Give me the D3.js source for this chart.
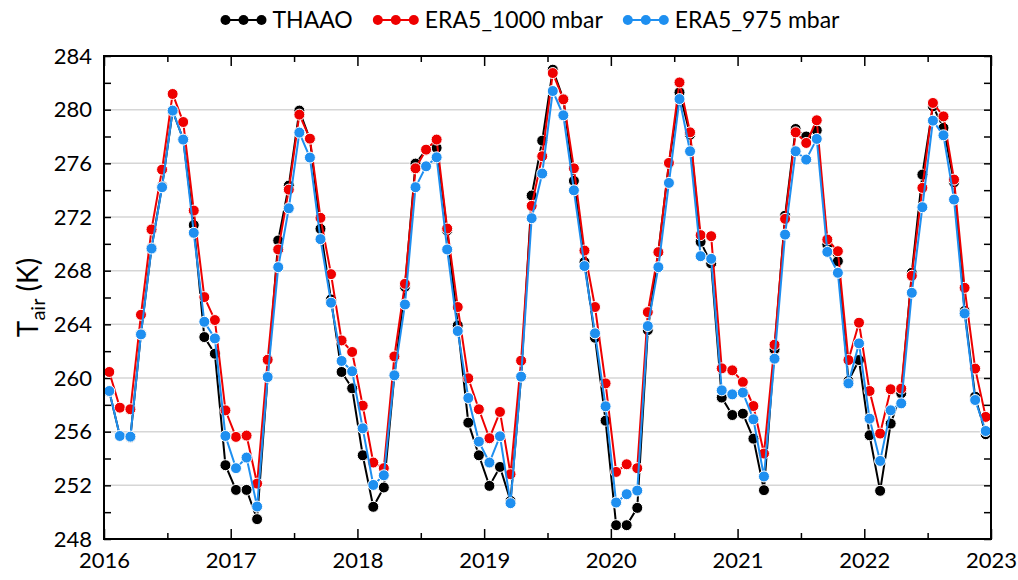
<!DOCTYPE html>
<html>
<head>
<meta charset="utf-8">
<script src="https://cdn.jsdelivr.net/npm/d3@7"></script>
<style>
  body { margin: 0; background: #fff; }
  .vis { width: 1018px; height: 580px; }
  text { font-family: Lato, "Open Sans", sans-serif; fill: #000; }
</style>
</head>
<body>
<div class="vis"></div>
<script>
(function() {
  'use strict';

  // monthly means, Jan 2016 .. Dec 2022
  var startYear = 2016;
  var yearTicks = [2016, 2017, 2018, 2019, 2020, 2021, 2022, 2023];
  var tempTicks = [248, 252, 256, 260, 264, 268, 272, 276, 280, 284];
  var seriesNames = ['THAAO', 'ERA5_1000 mbar', 'ERA5_975 mbar'];

  var thaao = [
    259.0, 255.7, 255.6, 263.3, 269.7, 274.3, 279.9, 277.8, 271.4, 263.05, 261.81, 253.5,
    251.66, 251.66, 249.48, 260.1, 270.25, 274.34, 279.93, 277.8, 271.12, 265.86, 260.45, 259.23,
    254.24, 250.4, 251.84, 260.2, 266.8, 275.98, 277.0, 277.15, 271.0, 263.92, 256.67, 254.24,
    251.96, 253.37, 250.84, 260.1, 273.6, 277.69, 282.98, 280.8, 274.69, 268.64, 263.0, 256.82,
    249.03, 249.03, 250.32, 263.57, 269.4, 276.0, 281.29, 278.14, 270.15, 268.54, 258.54, 257.24,
    257.34, 255.48, 251.64, 262.13, 272.1, 278.56, 278.0, 278.46, 269.95, 268.71, 259.78, 261.34,
    255.73, 251.59, 256.6, 258.86, 267.84, 275.16, 280.25, 278.64, 274.59, 264.99, 258.61, 255.81
  ];
  var era1000 = [
    260.45, 257.79, 257.67, 264.71, 271.07, 275.53, 281.17, 279.08, 272.48, 266.03, 264.32, 257.59,
    255.61, 255.71, 252.13, 261.36, 269.58, 274.04, 279.63, 277.84, 271.94, 267.74, 262.8, 261.94,
    257.94, 253.7, 253.28, 261.61, 267.02, 275.63, 277.02, 277.77, 271.14, 265.29, 259.98, 257.67,
    255.51, 257.47, 252.83, 261.29, 272.83, 276.53, 282.73, 280.77, 275.63, 269.5, 265.29, 259.6,
    253.0, 253.57, 253.28, 264.91, 269.38, 276.03, 282.03, 278.31, 270.65, 270.57, 260.72, 260.57,
    259.7, 257.91, 254.37, 262.48, 271.86, 278.31, 277.52, 279.21, 270.32, 269.45, 261.34, 264.12,
    259.03, 255.86, 259.16, 259.21, 267.62, 274.17, 280.5, 279.5, 274.79, 266.72, 260.7, 257.1
  ];
  var era975 = [
    259.03, 255.68, 255.63, 263.25, 269.65, 274.22, 279.93, 277.77, 270.82, 264.19, 262.95, 255.68,
    253.28, 254.07, 250.42, 260.07, 268.26, 272.65, 278.29, 276.43, 270.35, 265.61, 261.27, 260.5,
    256.25, 252.03, 252.75, 260.2, 265.48, 274.22, 275.78, 276.45, 269.58, 263.5, 258.51, 255.26,
    253.7, 255.66, 250.67, 260.1, 271.91, 275.24, 281.39, 279.58, 273.99, 268.34, 263.33, 257.89,
    250.72, 251.34, 251.61, 263.87, 268.26, 274.54, 280.79, 276.9, 269.08, 268.88, 259.08, 258.78,
    258.91, 256.92, 252.66, 261.44, 270.69, 276.9, 276.28, 277.82, 269.4, 267.84, 259.6, 262.58,
    256.97, 253.82, 257.59, 258.11, 266.35, 272.73, 279.18, 278.09, 273.3, 264.81, 258.36, 256.05
  ];

  var colors = ['#000000', '#ee0000', '#1e8ff0'];
  var seriesValues = [thaao, era1000, era975];

  var elWidth = 1018,
    elHeight = 580,
    margin = {top: 56, right: 27, bottom: 41, left: 104},
    width = elWidth - margin.left - margin.right,
    height = elHeight - margin.top - margin.bottom;

  var root = d3.select('.vis').append('svg')
      .attr('width', elWidth)
      .attr('height', elHeight);

  var svg = root.append('g')
      .attr('transform', 'translate(' + margin.left + ',' + margin.top + ')');

  var x = d3.scaleLinear().domain([2016, 2023]).range([0, width]);
  var y = d3.scaleLinear().domain([248, 284]).range([height, 0]);

  var halfYears = d3.range(2016.5, 2023, 1);
  var minorTemps = d3.range(250, 284, 4);

  // grid
  svg.append('g')
    .selectAll('line')
    .data(tempTicks.slice(1, -1))
    .enter().append('line')
      .attr('x1', 0).attr('x2', width)
      .attr('y1', function(d) { return y(d); })
      .attr('y2', function(d) { return y(d); })
      .attr('stroke', '#d6d6d6')
      .attr('stroke-width', 1.5);

  function styleAxis(g) {
    g.select('.domain').remove();
    g.selectAll('.tick line').attr('stroke', '#000').attr('stroke-width', 1.5);
    g.selectAll('.tick text').style('font-size', '22px').style('font-family', 'Lato, "Open Sans", sans-serif');
  }

  svg.append('g')
      .attr('transform', 'translate(0,' + height + ')')
      .call(d3.axisBottom(x).tickValues(yearTicks).tickFormat(d3.format('d')).tickSize(-10).tickPadding(13))
      .call(styleAxis);
  svg.append('g')
      .attr('transform', 'translate(0,' + height + ')')
      .call(d3.axisBottom(x).tickValues(halfYears).tickFormat('').tickSize(-6))
      .call(styleAxis);
  svg.append('g')
      .call(d3.axisTop(x).tickValues(yearTicks).tickFormat('').tickSize(-10))
      .call(styleAxis);
  svg.append('g')
      .call(d3.axisTop(x).tickValues(halfYears).tickFormat('').tickSize(-6))
      .call(styleAxis);

  svg.append('g')
      .call(d3.axisLeft(y).tickValues(tempTicks).tickFormat(d3.format('d')).tickSize(-7).tickPadding(12))
      .call(styleAxis);
  svg.append('g')
      .call(d3.axisLeft(y).tickValues(minorTemps).tickFormat('').tickSize(-7))
      .call(styleAxis);
  svg.append('g')
      .attr('transform', 'translate(' + width + ',0)')
      .call(d3.axisRight(y).tickValues(tempTicks).tickFormat('').tickSize(-7))
      .call(styleAxis);
  svg.append('g')
      .attr('transform', 'translate(' + width + ',0)')
      .call(d3.axisRight(y).tickValues(minorTemps).tickFormat('').tickSize(-7))
      .call(styleAxis);

  // series
  var line = d3.line()
    .x(function(d, i) { return x(startYear + (i + 0.5) / 12); })
    .y(function(d) { return y(d); });

  seriesValues.forEach(function(vals, s) {
    var g = svg.append('g');
    g.append('path')
      .datum(vals)
      .attr('d', line)
      .attr('fill', 'none')
      .attr('stroke', colors[s])
      .attr('stroke-width', 2);
    g.selectAll('circle')
      .data(vals)
      .enter().append('circle')
        .attr('cx', function(d, i) { return x(startYear + (i + 0.5) / 12); })
        .attr('cy', function(d) { return y(d); })
        .attr('r', 5.5)
        .attr('fill', colors[s])
        .attr('stroke', '#fff')
        .attr('stroke-width', 1);
  });

  // frame
  svg.append('rect')
      .attr('width', width)
      .attr('height', height)
      .attr('fill', 'none')
      .attr('stroke', '#000')
      .attr('stroke-width', 2);

  // y title
  var yt = root.append('text')
      .attr('transform', 'translate(38,' + (margin.top + height / 2) + ') rotate(-90)')
      .attr('text-anchor', 'middle')
      .style('font-size', '28px');
  yt.append('tspan').text('T');
  yt.append('tspan').attr('dy', 7).style('font-size', '20px').text('air');
  yt.append('tspan').attr('dy', -7).text(' (K)');

  // legend
  var legend = root.append('g');
  var lx = 0;
  seriesNames.forEach(function(name, s) {
    var item = legend.append('g').attr('transform', 'translate(' + lx + ',0)');
    item.append('line')
      .attr('x1', 5).attr('x2', 41).attr('y1', 0).attr('y2', 0)
      .attr('stroke', colors[s]).attr('stroke-width', 2);
    item.selectAll('circle')
      .data([5, 23, 41])
      .enter().append('circle')
        .attr('cx', function(d) { return d; })
        .attr('cy', 0)
        .attr('r', 5)
        .attr('fill', colors[s]);
    var t = item.append('text')
      .attr('x', 52)
      .attr('y', 8)
      .style('font-size', '23px')
      .text(name);
    lx += 52 + t.node().getComputedTextLength() + 20;
  });
  lx -= 20;
  legend.attr('transform', 'translate(' + (530 - lx / 2) + ',20)');
}());
</script>
</body>
</html>
